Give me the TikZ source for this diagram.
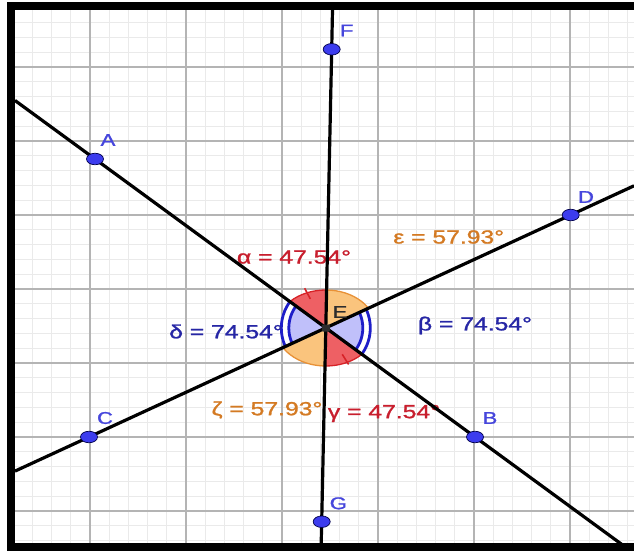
\documentclass[tikz,border=0pt]{standalone}
\usepackage{fontspec}
\setmainfont{Liberation Sans}
\newfontfamily\labelfont{Liberation Sans}[FakeBold=1.2]
\usepackage{graphicx}
\usetikzlibrary{calc,shapes.geometric}
\definecolor{minorgrid}{RGB}{234,234,234}
\definecolor{majorgrid}{RGB}{180,180,180}
\definecolor{redtxt}{RGB}{200,30,45}
\definecolor{orangetxt}{RGB}{212,122,35}
\definecolor{bluetxt}{RGB}{38,38,165}
\definecolor{ptlabel}{RGB}{70,70,220}
\definecolor{ptfill}{RGB}{60,60,238}
\definecolor{redfill}{RGB}{238,96,100}
\definecolor{redline}{RGB}{215,35,40}
\definecolor{orangefill}{RGB}{250,196,125}
\definecolor{orangeline}{RGB}{232,145,55}
\definecolor{bluefill}{RGB}{192,192,250}
\definecolor{blueline}{RGB}{30,30,200}
\definecolor{etxt}{RGB}{45,45,45}
\tikzset{
  minorline/.style={draw=minorgrid, line width=0.9pt},
  majorline/.style={draw=majorgrid, line width=1.4pt},
  geoline/.style={draw=black, line width=3.2pt},
  ptdot/.style={shape=ellipse, fill=ptfill, draw=black!70!blue, line width=0.7pt,
    minimum width=17pt, minimum height=11.5pt, inner sep=0pt},
  ptname/.style={text=ptlabel, inner sep=0pt, font=\labelfont\fontsize{17}{20}\selectfont},
  anglelabel/.style={inner sep=0pt, font=\labelfont\fontsize{19}{22}\selectfont},
}
\newcommand{\wide}[1]{\scalebox{1.3}[1]{#1}}
\begin{document}
\begin{tikzpicture}[x=1pt,y=-1pt]
\useasboundingbox (0,0) rectangle (634,553);
\fill[white] (0,0) rectangle (634,553);
% grid
\foreach \i in {1,...,32} \draw[minorline] (13.2+19.2*\i,10) -- (13.2+19.2*\i,543);
\foreach \j in {1,...,36} \draw[minorline] (15,7.8+14.8*\j) -- (634,7.8+14.8*\j);
\foreach \i in {0,...,5} \draw[majorline] (90+96*\i,10) -- (90+96*\i,543);
\foreach \j in {0,...,6} \draw[majorline] (15,67+74*\j) -- (634,67+74*\j);
% frame
\fill[black] (7,2) rectangle (15,551);
\fill[black] (7,2) rectangle (634,10);
\fill[black] (7,543) rectangle (634,551);
% points
\coordinate (A) at (95,159);
\coordinate (B) at (475,437);
\coordinate (C) at (89,437);
\coordinate (D) at (570.7,215);
\coordinate (E) at (325.8,328);
\coordinate (F) at (331.7,49.3);
\coordinate (G) at (321.7,521.7);
\coordinate (AB1) at (15,100.5);
\coordinate (AB2) at (622.6,545);
\coordinate (CD1) at (15,471.1);
\coordinate (CD2) at (634,185.8);
\coordinate (FG1) at (332.5,10);
\coordinate (FG2) at (321.2,543);
% angle wedges
\begin{scope}
  \clip (E) -- (A) -- (F) -- cycle;
  \fill[redfill] (E) ellipse [x radius=50pt, y radius=38pt];
  \draw[redline, line width=1.3pt] (E) ellipse [x radius=50pt, y radius=38pt];
\end{scope}
\begin{scope}
  \clip (E) -- (B) -- (G) -- cycle;
  \fill[redfill] (E) ellipse [x radius=50pt, y radius=38pt];
  \draw[redline, line width=1.3pt] (E) ellipse [x radius=50pt, y radius=38pt];
\end{scope}
\begin{scope}
  \clip (E) -- (F) -- (D) -- cycle;
  \fill[orangefill] (E) ellipse [x radius=50pt, y radius=38pt];
  \draw[orangeline, line width=1.3pt] (E) ellipse [x radius=50pt, y radius=38pt];
\end{scope}
\begin{scope}
  \clip (E) -- (G) -- (C) -- cycle;
  \fill[orangefill] (E) ellipse [x radius=50pt, y radius=38pt];
  \draw[orangeline, line width=1.3pt] (E) ellipse [x radius=50pt, y radius=38pt];
\end{scope}
\begin{scope}
  \clip (E) -- (D) -- (B) -- cycle;
  \fill[white] (E) circle [radius=46pt];
  \fill[bluefill] (E) circle [radius=37pt];
  \draw[blueline, line width=2.8pt] (E) circle [radius=37pt];
  \draw[blueline, line width=2.8pt] (E) circle [radius=44.5pt];
\end{scope}
\begin{scope}
  \clip (E) -- (C) -- (A) -- cycle;
  \fill[white] (E) circle [radius=46pt];
  \fill[bluefill] (E) circle [radius=37pt];
  \draw[blueline, line width=2.8pt] (E) circle [radius=37pt];
  \draw[blueline, line width=2.8pt] (E) circle [radius=44.5pt];
\end{scope}
% ticks on red angles
\draw[redline, line width=1.6pt] ($(E)+(-118:33)$) -- ($(E)+(-118:45)$);
\draw[redline, line width=1.6pt] ($(E)+(58:31)$) -- ($(E)+(58:43)$);
% angle labels
\node[anglelabel, text=redtxt] (lalpha) at (294,257) {\wide{α = 47.54°}};
\node[anglelabel, text=orangetxt] (leps) at (448.7,237) {\wide{ε = 57.93°}};
\node[anglelabel, text=bluetxt] (lbeta) at (475,325.5) {\wide{β = 74.54°}};
\node[anglelabel, text=bluetxt] (ldelta) at (226,331.5) {\wide{δ = 74.54°}};
\node[anglelabel, text=orangetxt] (lzeta) at (267,410) {\wide{ζ = 57.93°}};
\node[anglelabel, text=redtxt] (lgamma) at (384,413.5) {\wide{γ = 47.54°}};
% lines
\draw[geoline] (AB1) -- (A) -- (B) -- (AB2);
\draw[geoline] (CD1) -- (C) -- (D) -- (CD2);
\draw[geoline] (FG1) -- (F) -- (G) -- (FG2);
% point dots
\node[ptdot] (dA) at (A) {};
\node[ptdot] (dB) at (B) {};
\node[ptdot] (dC) at (C) {};
\node[ptdot] (dD) at (D) {};
\node[ptdot] (dF) at (F) {};
\node[ptdot] (dG) at (G) {};
\node[fill=etxt, minimum width=8pt, minimum height=7pt, inner sep=0pt, rounded corners=1pt] (dE) at (E) {};
% point labels
\node[ptname] (nA) at (108,140) {\wide{A}};
\node[ptname] (nB) at (490,418) {\wide{B}};
\node[ptname] (nC) at (105,418) {\wide{C}};
\node[ptname] (nD) at (586,197) {\wide{D}};
\node[ptname] (nF) at (346.7,30.5) {\wide{F}};
\node[ptname] (nG) at (338.3,503.3) {\wide{G}};
\node[ptname, text=etxt] (nE) at (340,312) {\wide{E}};
\end{tikzpicture}
\end{document}
